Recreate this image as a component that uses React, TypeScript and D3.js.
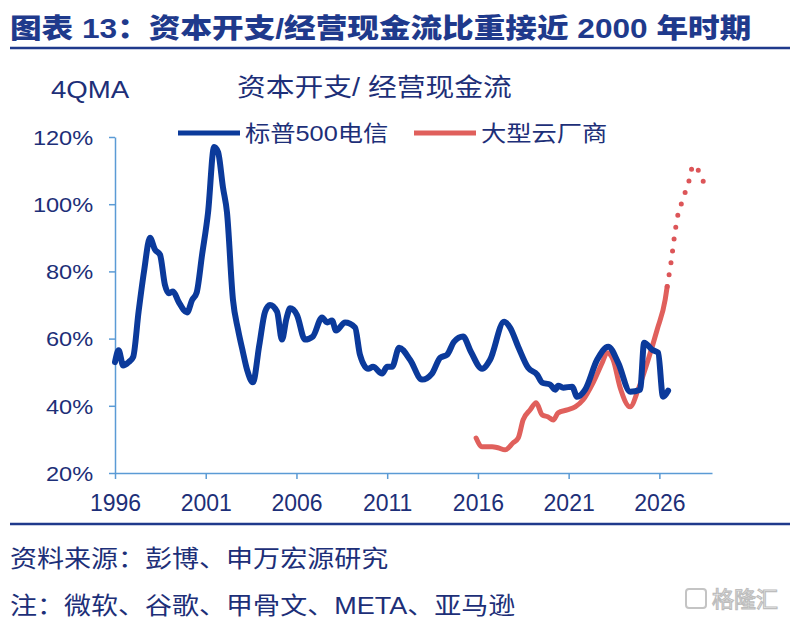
import { useEffect, useRef } from 'react';
import * as d3 from 'd3';

type Pt = [number, number];

// S&P 500 telecom capex / operating cash flow, 4QMA (%)
const telecom: Pt[] = [
  [1996.0, 53], [1996.2, 56.5], [1996.45, 52], [1996.75, 53], [1997.0, 54.5],
  [1997.3, 68], [1997.6, 80], [1997.93, 90], [1998.2, 86.5], [1998.48, 85],
  [1998.75, 76], [1998.95, 73.5], [1999.2, 74], [1999.5, 71], [1999.97, 67.8],
  [2000.25, 71.5], [2000.5, 73.7], [2000.8, 85], [2001.13, 97.6], [2001.46, 117],
  [2001.68, 115.5], [2001.95, 105], [2002.17, 97.6], [2002.5, 71.6], [2002.78, 62.7],
  [2003.05, 56], [2003.28, 50.7], [2003.6, 47], [2003.95, 58], [2004.27, 68],
  [2004.54, 70], [2004.93, 68], [2005.2, 59.7], [2005.45, 66], [2005.65, 69],
  [2006.03, 67], [2006.47, 59.7], [2006.9, 60.6], [2007.41, 66.3], [2007.69, 64.8],
  [2007.96, 65.4], [2008.18, 62.4], [2008.68, 64.8], [2009.23, 63.3], [2009.5, 55.2],
  [2009.95, 51], [2010.22, 51.6], [2010.72, 49.6], [2011.0, 51.6], [2011.27, 51.6],
  [2011.66, 57.3], [2012.26, 53.7], [2012.92, 47.8], [2013.47, 49.6], [2013.92, 54.3],
  [2014.3, 55.2], [2014.69, 59.1], [2015.18, 60.6], [2015.62, 56], [2016.23, 51],
  [2016.67, 53.7], [2017.44, 65], [2017.77, 63.3], [2018.22, 57.6], [2018.77, 51.3],
  [2019.26, 49.3], [2019.54, 46.9], [2019.98, 46.3], [2020.26, 44.8], [2020.42, 46],
  [2020.7, 45.4], [2021.19, 45.7], [2021.47, 42.7], [2021.91, 44.8], [2022.57, 53.7],
  [2023.18, 57.6], [2023.73, 52.8], [2024.39, 44.2], [2024.94, 44.8], [2025.16, 58.8],
  [2025.6, 56.7], [2025.93, 55.8], [2026.2, 42.7], [2026.48, 44.5],
];

// large cloud vendors, actual
const cloud: Pt[] = [
  [2015.9, 30.4], [2016.23, 27.8], [2016.78, 27.8], [2017.11, 27.5], [2017.5, 26.9],
  [2017.94, 29], [2018.22, 30.4], [2018.49, 35.8], [2018.88, 38.8], [2019.21, 40.9],
  [2019.54, 37.3], [2019.87, 36.7], [2020.15, 35.8], [2020.42, 37.9], [2020.92, 38.8],
  [2021.36, 39.7], [2021.8, 41.8], [2022.35, 46.9], [2022.85, 52.8], [2023.12, 55.8],
  [2023.45, 53.7], [2023.84, 45.4], [2024.39, 39.7], [2024.83, 44.8], [2025.33, 52.8],
  [2025.88, 62.7], [2026.32, 71.6], [2026.43, 75.5],
];

// large cloud vendors, forecast (dotted)
const cloudForecast: Pt[] = [
  [2026.43, 75.5], [2026.65, 83], [2026.82, 90], [2027.04, 97.3], [2027.26, 100.9],
  [2027.48, 104.5], [2027.7, 108.1], [2027.86, 111.6], [2028.14, 110.1],
  [2028.41, 106.9], [2028.69, 103.6],
];

const yearTicks = [1996, 2001, 2006, 2011, 2016, 2021, 2026];
const pctTicks = [20, 40, 60, 80, 100, 120];

const NAVY = '#1d2f78';
const BLUE = '#0b3a9b';
const RED = '#e0605c';
const AXIS = '#5b9bd5';
const FONT = '"Liberation Sans", Arial, "Noto Sans CJK SC", sans-serif';

const App = () => {
  const svgRef = useRef<SVGSVGElement>(null);

  useEffect(() => {
    if (!svgRef.current) return;
    const svg = d3.select(svgRef.current);
    svg.selectAll('*').remove();

    svg.append('rect').attr('width', 800).attr('height', 628).attr('fill', '#fff');

    const x = d3.scaleLinear().domain([1996, 2028.9]).range([115, 712]);
    const y = d3.scaleLinear().domain([20, 120]).range([473, 137]);

    const addText = (
      tx: number,
      ty: number,
      str: string,
      size: number,
      opts: { weight?: string; fill?: string; sx?: number; anchor?: string } = {}
    ) =>
      svg
        .append('text')
        .attr('transform', `translate(${tx},${ty}) scale(${opts.sx ?? 1.15},1)`)
        .attr('font-family', FONT)
        .attr('font-size', size)
        .attr('font-weight', opts.weight ?? 'normal')
        .attr('fill', opts.fill ?? NAVY)
        .attr('text-anchor', opts.anchor ?? 'start')
        .text(str);

    // header
    addText(10, 38, '图表 13：资本开支/经营现金流比重接近 2000 年时期', 27.5, {
      weight: '900',
      fill: '#1f3a8c',
    });
    svg.append('line').attr('x1', 10).attr('x2', 790).attr('y1', 48).attr('y2', 48)
      .attr('stroke', '#1f3a8c').attr('stroke-width', 2.5);

    addText(51, 98, '4QMA', 24);
    addText(237, 96, '资本开支/ 经营现金流', 25);

    // legend
    const legend = [
      { label: '标普500电信', color: BLUE, x0: 178 },
      { label: '大型云厂商', color: RED, x0: 414 },
    ];
    legend.forEach((l) => {
      svg.append('line').attr('x1', l.x0).attr('x2', l.x0 + 62).attr('y1', 133).attr('y2', 133)
        .attr('stroke', l.color).attr('stroke-width', 5);
      addText(l.x0 + 67, 141, l.label, 22);
    });

    // axes
    const yAxis = svg.append('g').attr('transform', 'translate(115,0)')
      .call(d3.axisLeft(y).tickValues(pctTicks).tickSize(6).tickSizeOuter(0)
        .tickFormat((d) => `${d}%`));
    yAxis.select('.domain').attr('stroke', AXIS).attr('stroke-width', 1.5);
    yAxis.selectAll('.tick line').attr('stroke', AXIS).attr('stroke-width', 1.5);
    yAxis.selectAll('.tick text')
      .attr('x', -19).attr('dy', '0.36em')
      .attr('transform', 'scale(1.15,1)')
      .attr('font-family', FONT).attr('font-size', 20.5).attr('fill', NAVY);

    const xAxis = svg.append('g').attr('transform', 'translate(0,473)')
      .call(d3.axisBottom(x).tickValues(yearTicks).tickSize(6).tickSizeOuter(0)
        .tickFormat((d) => `${d}`));
    xAxis.select('.domain').attr('stroke', AXIS).attr('stroke-width', 1.5);
    xAxis.selectAll('.tick line').attr('stroke', AXIS).attr('stroke-width', 1.5);
    xAxis.selectAll('.tick text')
      .attr('y', 22).attr('dy', '0.71em')
      .attr('font-family', FONT).attr('font-size', 23).attr('fill', NAVY);

    // series
    const line = d3.line<Pt>()
      .x((d) => x(d[0]))
      .y((d) => y(d[1]))
      .curve(d3.curveMonotoneX);

    svg.append('path').datum(cloud).attr('d', line)
      .attr('fill', 'none').attr('stroke', RED).attr('stroke-width', 5)
      .attr('stroke-linejoin', 'round').attr('stroke-linecap', 'round');

    svg.append('path').datum(cloudForecast).attr('d', line.curve(d3.curveCatmullRom))
      .attr('fill', 'none').attr('stroke', '#dc5558').attr('stroke-width', 5)
      .attr('stroke-linecap', 'round').attr('stroke-dasharray', '0 12');

    svg.append('path').datum(telecom).attr('d', line.curve(d3.curveMonotoneX))
      .attr('fill', 'none').attr('stroke', BLUE).attr('stroke-width', 6)
      .attr('stroke-linejoin', 'round').attr('stroke-linecap', 'round');

    // footer
    svg.append('line').attr('x1', 10).attr('x2', 790).attr('y1', 524).attr('y2', 524)
      .attr('stroke', '#1f3a8c').attr('stroke-width', 2.5);
    addText(10, 567, '资料来源：彭博、申万宏源研究', 23.5);
    addText(10, 614, '注：微软、谷歌、甲骨文、META、亚马逊', 23.5);

    // watermark
    svg.append('rect').attr('x', 686).attr('y', 589).attr('width', 20).attr('height', 19)
      .attr('rx', 3).attr('fill', 'none').attr('stroke', '#c4c4c4').attr('stroke-width', 2);
    addText(712, 607, '格隆汇', 22, { fill: '#fff', sx: 1 })
      .attr('stroke', '#bdbdbd').attr('stroke-width', 1.2);
  }, []);

  return (
    <svg
      ref={svgRef}
      width={800}
      height={628}
      style={{ position: 'absolute', left: 0, top: 0 }}
    />
  );
};

export default App;
